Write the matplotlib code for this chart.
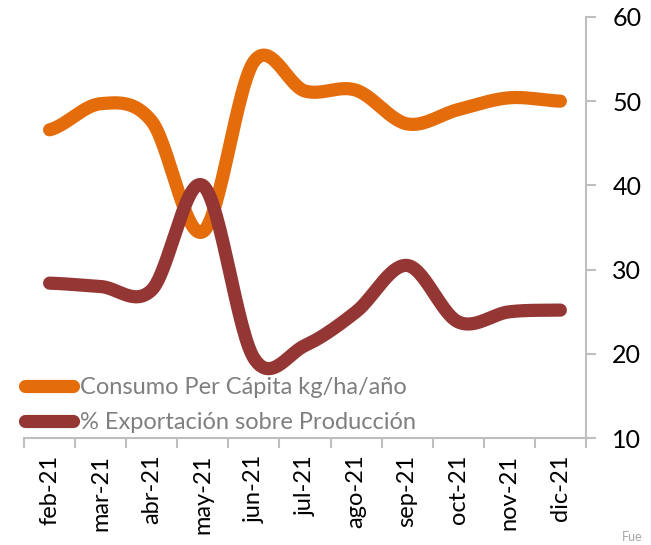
import numpy as np
import matplotlib.pyplot as plt
from matplotlib.lines import Line2D

# Data
months = ['feb-21', 'mar-21', 'abr-21', 'may-21', 'jun-21', 'jul-21',
          'ago-21', 'sep-21', 'oct-21', 'nov-21', 'dic-21']
consumo = [46.6, 49.7, 47.6, 34.5, 54.7, 51.2, 51.3, 47.3, 49.0, 50.4, 50.0]
exportacion = [28.4, 28.0, 27.6, 40.0, 19.5, 21.0, 25.0, 30.5, 23.8, 25.0, 25.2]

orange = '#E46C0A'
darkred = '#943634'
grey = '#BFBFBF'

plt.rcParams['font.family'] = ['Lato', 'DejaVu Sans']


def smooth(y, steps=30):
    # Catmull-Rom spline, similar to Excel's smoothed line
    y = np.asarray(y, dtype=float)
    x = np.arange(len(y), dtype=float)
    px = np.concatenate([[2 * x[0] - x[1]], x, [2 * x[-1] - x[-2]]])
    py = np.concatenate([[y[0]], y, [y[-1]]])
    xs, ys = [], []
    t = np.linspace(0, 1, steps, endpoint=False)
    for i in range(1, len(px) - 2):
        for p, out in ((px, xs), (py, ys)):
            p0, p1, p2, p3 = p[i - 1], p[i], p[i + 1], p[i + 2]
            out.extend(0.5 * ((2 * p1) + (-p0 + p2) * t
                              + (2 * p0 - 5 * p1 + 4 * p2 - p3) * t ** 2
                              + (-p0 + 3 * p1 - 3 * p2 + p3) * t ** 3))
    xs.append(x[-1])
    ys.append(y[-1])
    return np.array(xs), np.array(ys)


fig = plt.figure(figsize=(6.51, 5.45), dpi=100)
ax = fig.add_axes([0.037, 0.196, 0.863, 0.773])

x = np.arange(len(months))
lw = 9.5
for vals, col in ((consumo, orange), (exportacion, darkred)):
    sx, sy = smooth(vals)
    ax.plot(sx, sy, color=col, lw=lw, solid_capstyle='round',
            solid_joinstyle='round')

ax.set_xlim(-0.5, len(months) - 0.5)
ax.set_ylim(10, 60)

# axes styling
ax.yaxis.tick_right()
ax.spines['left'].set_visible(False)
ax.spines['top'].set_visible(False)
ax.spines['right'].set_color(grey)
ax.spines['bottom'].set_color(grey)
ax.spines['right'].set_linewidth(1.5)
ax.spines['bottom'].set_linewidth(1.5)

ax.set_yticks([10, 20, 30, 40, 50, 60])
ax.tick_params(axis='y', which='major', length=7, width=1.5, color=grey,
               labelsize=18, pad=12, labelcolor='black')

ax.set_xticks(x)
ax.set_xticklabels(months, rotation=90, fontsize=17)
ax.set_xticks(np.arange(-0.5, len(months)), minor=True)
ax.tick_params(axis='x', which='major', length=0, pad=12)
ax.tick_params(axis='x', which='minor', length=7, width=1.5, color=grey)

# legend
handles = [Line2D([], [], color=orange, lw=lw, solid_capstyle='round'),
           Line2D([], [], color=darkred, lw=lw, solid_capstyle='round')]
labels = ['Consumo Per Cápita kg/ha/año', '% Exportación sobre Producción']
leg = ax.legend(handles, labels, loc='lower left', bbox_to_anchor=(-0.027, -0.028),
                frameon=False, fontsize=17, handlelength=2.0, handletextpad=0.3,
                labelspacing=0.62, borderaxespad=0.3)
for t in leg.get_texts():
    t.set_color('#7F7F7F')

fig.text(0.955, 0.003, 'Fue', fontsize=9, color='#A6A6A6', va='bottom')

fig.savefig('out.png', dpi=100)
